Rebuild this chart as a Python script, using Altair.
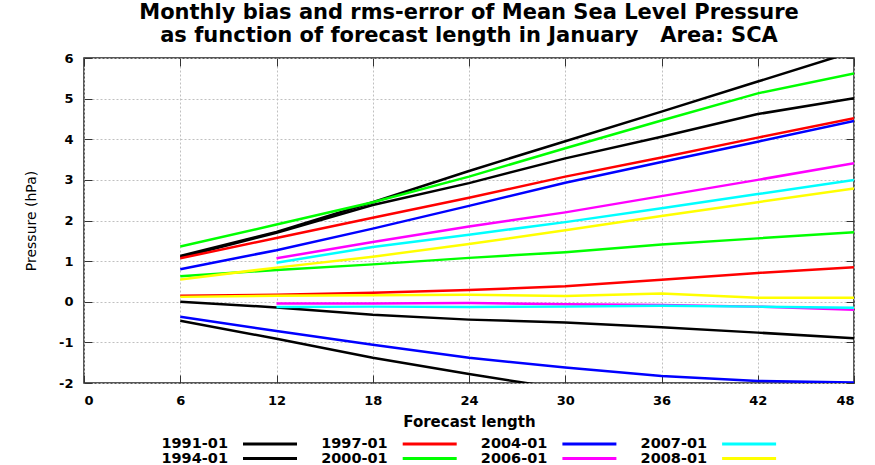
import altair as alt
import pandas as pd

# ---------------- data ----------------
hours = [6, 12, 18, 24, 30, 36, 42, 48]
hours_from12 = [12, 18, 24, 30, 36, 42, 48]

years = ["1991-01", "1994-01", "1997-01", "2000-01",
         "2004-01", "2006-01", "2007-01", "2008-01"]
colors = ["#000000", "#000000", "#ff0000", "#00ff00",
          "#0000ff", "#ff00ff", "#00ffff", "#ffff00"]

rms_1991 = [1.13, 1.72, 2.45, 3.22, 3.95, 4.68, 5.42, 6.16]
rms_1994 = [1.09, 1.70, 2.38, 2.92, 3.53, 4.06, 4.62, 5.01]
rms_1997 = [1.07, 1.57, 2.07, 2.56, 3.08, 3.55, 4.04, 4.52]
rms_2000 = [1.36, 1.90, 2.45, 3.08, 3.78, 4.46, 5.13, 5.62]
rms_2004 = [0.80, 1.27, 1.80, 2.36, 2.93, 3.44, 3.94, 4.45]
rms_2006 = [1.07, 1.47, 1.85, 2.20, 2.60, 3.00, 3.41]
rms_2007 = [0.96, 1.35, 1.65, 1.96, 2.30, 2.65, 3.00]
rms_2008 = [0.55, 0.84, 1.11, 1.42, 1.76, 2.11, 2.45, 2.79]

bias_1991 = [-0.47, -0.91, -1.38, -1.78, -2.15, -2.50, -2.85, -3.20]
bias_1994 = [0.00, -0.14, -0.32, -0.44, -0.51, -0.63, -0.76, -0.90]
bias_1997 = [0.15, 0.17, 0.22, 0.29, 0.38, 0.54, 0.71, 0.85]
bias_2000 = [0.63, 0.78, 0.92, 1.08, 1.22, 1.41, 1.56, 1.71]
bias_2004 = [-0.37, -0.72, -1.06, -1.38, -1.62, -1.83, -1.95, -1.99]
bias_2006 = [-0.04, -0.04, -0.03, -0.06, -0.08, -0.12, -0.20]
bias_2007 = [-0.13, -0.12, -0.13, -0.12, -0.10, -0.12, -0.15]
bias_2008 = [0.12, 0.15, 0.16, 0.17, 0.14, 0.20, 0.10, 0.10]

rms_all = [rms_1991, rms_1994, rms_1997, rms_2000, rms_2004, rms_2006, rms_2007, rms_2008]
bias_all = [bias_1991, bias_1994, bias_1997, bias_2000, bias_2004, bias_2006, bias_2007, bias_2008]

x_ticks = [0, 6, 12, 18, 24, 30, 36, 42, 48]
y_ticks = [-2, -1, 0, 1, 2, 3, 4, 5, 6]

rows = []
for yr, r, b in zip(years, rms_all, bias_all):
    for kind, vals in (("rms", r), ("bias", b)):
        hrs = hours if len(vals) == len(hours) else hours_from12
        for h, v in zip(hrs, vals):
            rows.append({"year": yr, "series": yr + " " + kind, "hour": h, "value": v})
df = pd.DataFrame(rows)

legend_df = pd.DataFrame({
    "year": years,
    "col": [i // 2 for i in range(len(years))],
    "row": [i % 2 for i in range(len(years))],
})

# ---------------- style ----------------
FONT = "DejaVu Sans"
xs = alt.Scale(domain=[0, 48], nice=False, zero=False)
ys = alt.Scale(domain=[-2, 6], nice=False, zero=False)
cs = alt.Scale(domain=years, range=colors)

x_axis = alt.Axis(values=x_ticks, orient="bottom", offset=-8, tickSize=8, domain=False,
                  grid=True, labelPadding=11, labelFont=FONT, labelFontSize=13,
                  labelFontWeight="bold", labelColor="black", title="Forecast length",
                  titleFont=FONT, titleFontSize=15, titleFontWeight="bold",
                  titleColor="black", titlePadding=7, labelExpr="datum.value + ''")
y_axis = alt.Axis(values=y_ticks, orient="left", offset=-8, tickSize=8, domain=False,
                  grid=True, labelPadding=11, labelFont=FONT, labelFontSize=13,
                  labelFontWeight="bold", labelColor="black", title="Pressure (hPa)",
                  titleFont=FONT, titleFontSize=14, titleFontWeight="normal",
                  titleColor="black", titlePadding=20, labelExpr="datum.value + ''")

lines = alt.Chart(df).mark_line(strokeWidth=2.5, clip=True).encode(
    x=alt.X("hour:Q", scale=xs, axis=x_axis),
    y=alt.Y("value:Q", scale=ys, axis=y_axis),
    color=alt.Color("year:N", scale=cs, legend=None),
    detail="series:N",
)

mirror = alt.Chart(df).mark_line(opacity=0).encode(
    x=alt.X("hour:Q", scale=xs,
            axis=alt.Axis(orient="top", values=x_ticks, labels=False, offset=-8,
                          tickSize=8, domain=False, grid=False, title=None)),
    y=alt.Y("value:Q", scale=ys,
            axis=alt.Axis(orient="right", values=y_ticks, labels=False, offset=-8,
                          tickSize=8, domain=False, grid=False, title=None)),
    detail="series:N",
)

leg_x = alt.Scale(domain=[0, 1], range=[144, 303.7], zero=False, nice=False)
leg_y = alt.Scale(domain=[0, 1], range=[386.0, 400.5], zero=False, nice=False)

legend_text = alt.Chart(legend_df).mark_text(
    align="right", baseline="middle", font=FONT, fontSize=14.5, fontWeight="bold",
    color="black").encode(
    x=alt.X("col:Q", scale=leg_x, axis=None),
    y=alt.Y("row:Q", scale=leg_y, axis=None),
    text="year:N",
)

legend_lines = alt.Chart(legend_df).transform_calculate(
    xa="datum.col + 15/159.7", xb="datum.col + 69/159.7"
).mark_rule(strokeWidth=3).encode(
    x=alt.X("xa:Q", scale=leg_x, axis=None),
    x2="xb:Q",
    y=alt.Y("row:Q", scale=leg_y, axis=None),
    color=alt.Color("year:N", scale=cs, legend=None),
)

chart = alt.layer(lines, mirror, legend_text, legend_lines).resolve_scale(
    x="independent", y="independent"
).properties(
    width=770,
    height=325,
    title=alt.TitleParams(
        text=["Monthly bias and rms-error of Mean Sea Level Pressure",
              "as function of forecast length in January\u00a0\u00a0\u00a0Area: SCA"],
        font=FONT, fontSize=21, fontWeight="bold", color="black",
        anchor="middle", lineHeight=22.5, offset=6),
    padding={"left": 84, "top": 58, "right": 21, "bottom": 82},
    autosize=alt.AutoSizeParams(type="none"),
    background="white",
).configure_view(
    stroke="#222222", strokeWidth=1.5
).configure_axis(
    gridColor="#c0c0c0", gridDash=[2, 2], gridWidth=1,
    tickColor="#333333", tickWidth=1,
)

chart.save("out.html", embed_options={"renderer": "svg", "actions": False})
